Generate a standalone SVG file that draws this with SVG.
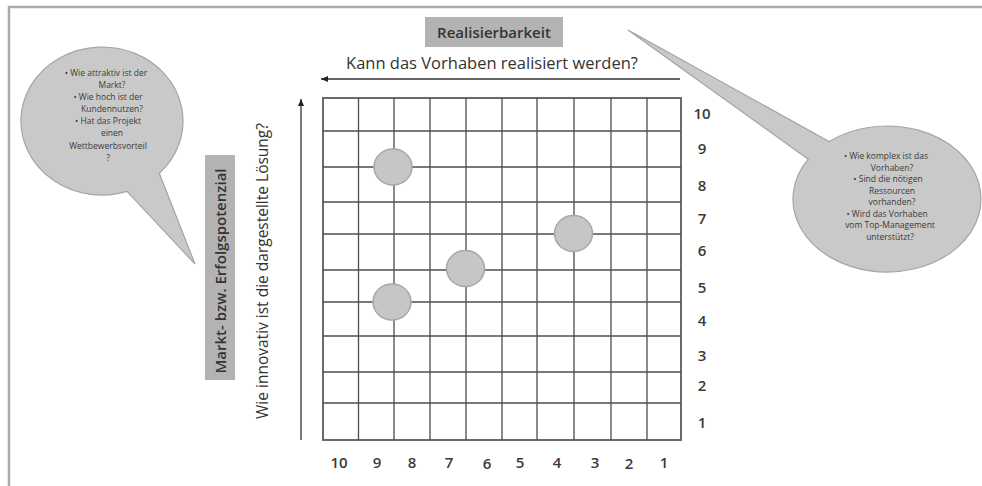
<svg xmlns="http://www.w3.org/2000/svg" width="982" height="486" viewBox="0 0 982 486">
<defs>
<style>
.t{font-family:"Open Sans","Liberation Sans",sans-serif;fill:#333;}
.num{font-size:15px;text-anchor:middle;font-weight:600;fill:#3a3a3a;}
.bub{fill:#c9c9c9;stroke:#a5a5a5;stroke-width:1.2;}
.btx{font-size:8.5px;text-anchor:middle;fill:#3a3a3a;}
.grid{stroke:#4d4d4d;stroke-width:1.3;fill:none;}
.ax{stroke:#333;stroke-width:1.3;fill:none;}
.dot{fill:#c6c6c6;stroke:#a8a8a8;stroke-width:1.5;}
.lab{fill:#b3b3b3;}
</style>
<marker id="ah" markerWidth="8" markerHeight="8" refX="7" refY="4" orient="auto" markerUnits="userSpaceOnUse">
<path d="M0,1 L7,4 L0,7 Z" fill="#222"/>
</marker>
</defs>
<rect width="982" height="486" fill="#fff"/>
<path d="M9,486 L9,7 L982,7" fill="none" stroke="#aaa" stroke-width="2.5"/>

<g id="bubble-left">
<path class="bub" d="M127,191.4 A81,74 0 1 1 159.3,173.3 L195,264 Z"/>
<text class="t btx"><tspan x="106" y="76">•   Wie attraktiv ist der</tspan><tspan x="112" y="88">Markt?</tspan><tspan x="108" y="100">•   Wie hoch ist der</tspan><tspan x="112" y="112">Kundennutzen?</tspan><tspan x="108" y="124">•   Hat das Projekt</tspan><tspan x="112" y="136">einen</tspan><tspan x="108" y="149">Wettbewerbsvorteil</tspan><tspan x="108" y="161">?</tspan></text>
</g>

<g id="bubble-right">
<path class="bub" d="M829.1,141.5 A94,73 0 1 1 808.2,159.2 L628,30 Z"/>
<text class="t btx"><tspan x="886" y="159">•   Wie komplex ist das</tspan><tspan x="892" y="170.5">Vorhaben?</tspan><tspan x="888" y="182">•   Sind die nötigen</tspan><tspan x="892" y="193.5">Ressourcen</tspan><tspan x="892" y="205">vorhanden?</tspan><tspan x="887" y="216.5">•   Wird das Vorhaben</tspan><tspan x="890" y="228">vom Top-Management</tspan><tspan x="890" y="239.5">unterstützt?</tspan></text>
</g>

<g id="label-realisierbarkeit">
<rect class="lab" x="425" y="17" width="138" height="30"/>
<text class="t" x="494" y="38" font-size="15" font-weight="600" text-anchor="middle" fill="#333">Realisierbarkeit</text>
</g>

<g id="label-markt">
<rect class="lab" x="205" y="155" width="30" height="225"/>
<text class="t" transform="translate(226,271) rotate(-90)" font-size="15" font-weight="600" text-anchor="middle">Markt- bzw. Erfolgspotenzial</text>
</g>

<g id="axis-titles">
<text class="t" x="492" y="69" font-size="16.5" text-anchor="middle">Kann das Vorhaben realisiert werden?</text>
<text class="t" transform="translate(268,271) rotate(-90)" font-size="15.5" text-anchor="middle">Wie innovativ ist die dargestellte Lösung?</text>
</g>

<g id="connectors">
<line class="ax" x1="680" y1="79" x2="321" y2="79" marker-end="url(#ah)"/>
<line class="ax" x1="301" y1="440" x2="301" y2="99" marker-end="url(#ah)"/>
</g>

<g id="grid">
<rect x="323" y="98" width="358" height="342" fill="none" stroke="#6a6a6a" stroke-width="2"/>
<path class="grid" d="M358.5,98V440M394,98V440M430,98V440M466,98V440M502,98V440M537,98V440M574,98V440M611,98V440M647,98V440
M323,131H681M323,167H681M323,202H681M323,234H681M323,270H681M323,302H681M323,336H681M323,372H681M323,403H681"/>
</g>

<g id="points">
<ellipse class="dot" cx="393" cy="167" rx="19" ry="18"/>
<ellipse class="dot" cx="573.5" cy="233.5" rx="19" ry="18"/>
<ellipse class="dot" cx="465.5" cy="268.5" rx="19" ry="18"/>
<ellipse class="dot" cx="392" cy="302" rx="19" ry="18"/>
</g>

<g id="y-labels" class="t num">
<text x="702" y="119">10</text>
<text x="702" y="154">9</text>
<text x="702" y="191">8</text>
<text x="702" y="224">7</text>
<text x="702" y="256">6</text>
<text x="702" y="293">5</text>
<text x="702" y="326">4</text>
<text x="702" y="361">3</text>
<text x="702" y="391">2</text>
<text x="702" y="428">1</text>
</g>

<g id="x-labels" class="t num">
<text x="339" y="468">10</text>
<text x="377" y="468">9</text>
<text x="412" y="468">8</text>
<text x="449" y="468">7</text>
<text x="487" y="469">6</text>
<text x="520" y="468">5</text>
<text x="557" y="468">4</text>
<text x="595" y="468">3</text>
<text x="629" y="469">2</text>
<text x="664" y="468">1</text>
</g>
</svg>
